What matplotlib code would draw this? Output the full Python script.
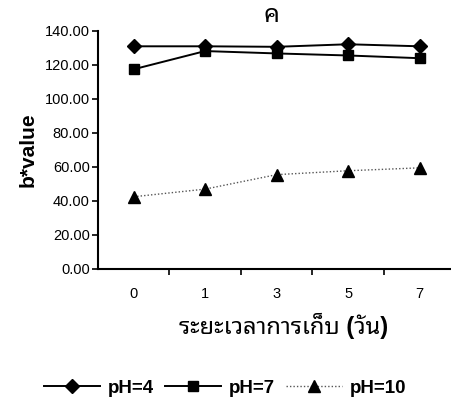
import matplotlib
matplotlib.use('Agg')
import matplotlib.pyplot as plt
import numpy as np

plt.rcParams['font.family'] = ['Liberation Sans', 'Noto Sans Thai Looped']

# storage time (days)
days = ['0', '1', '3', '5', '7']
ph4 = [131.0, 131.0, 130.7, 132.2, 131.0]
ph7 = [117.5, 128.2, 126.8, 125.6, 124.0]
ph10 = [42.5, 47.0, 55.5, 57.8, 59.5]
series_labels = ['pH=4', 'pH=7', 'pH=10']

fig = plt.figure(figsize=(4.51, 4.09), dpi=100)
ax = fig.add_axes([98 / 451, 140 / 409, 353 / 451, 238 / 409])

x = np.arange(len(days))
ax.plot(x, ph4, color='black', lw=1.4, marker='D', ms=7,
        mfc='black', mec='black', label=series_labels[0])
ax.plot(x, ph7, color='black', lw=1.4, marker='s', ms=6.5,
        mfc='black', mec='black', label=series_labels[1])
ax.plot(x, ph10, color='#555555', lw=1.0, ls=(0, (1, 1.5)), marker='^', ms=8,
        mfc='black', mec='black', label=series_labels[2])

ax.set_xlim(-0.5, 4.44)
ax.set_ylim(0, 140)
ax.set_yticks(np.arange(0, 141, 20))
ax.set_yticklabels(['%.2f' % v for v in np.arange(0, 141, 20)], fontsize=10.5)
ax.set_xticks(x)
ax.set_xticklabels(days, fontsize=10.5)
ax.set_xticks(x[:-1] + 0.5, minor=True)
ax.tick_params(axis='x', which='major', length=0, pad=13)
ax.tick_params(axis='x', which='minor', direction='out', length=4, width=1.2)
ax.tick_params(axis='y', direction='out', length=4, width=1.2, pad=2)

for s in ['top', 'right']:
    ax.spines[s].set_visible(False)
ax.spines['left'].set_linewidth(1.5)
ax.spines['bottom'].set_linewidth(1.5)

ax.set_ylabel('b*value', fontsize=15, fontweight='bold', labelpad=5)
fig.text(284 / 451, 1 - 326 / 409, 'ระยะเวลาการเก็บ (วัน)', fontsize=17,
         fontweight='bold', ha='center', va='center')
fig.text(271 / 451, 1 - 15 / 409, 'ค', fontsize=18, ha='center', va='center')

fig.legend(loc='center', bbox_to_anchor=(225 / 451, 1 - 388 / 409), ncol=3,
           frameon=False, handlelength=3.0, columnspacing=0.6, handletextpad=0.4,
           prop={'size': 13.5, 'weight': 'bold'})

fig.savefig('out.png')
